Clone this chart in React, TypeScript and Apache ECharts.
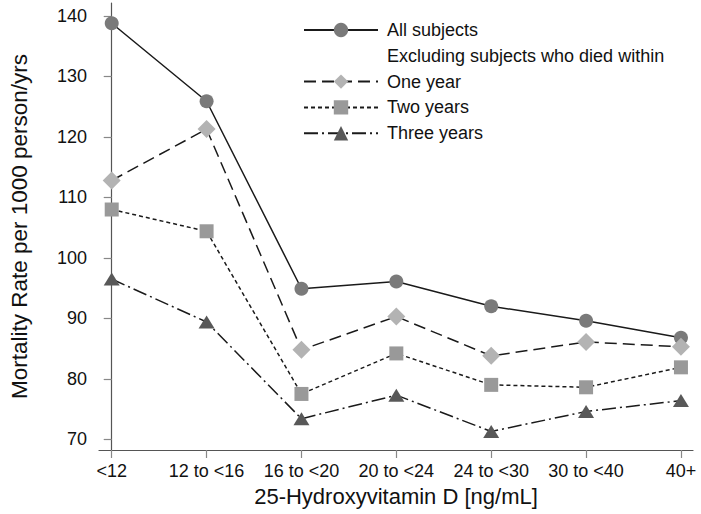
import React, { useEffect, useRef } from "react";
import * as echarts from "echarts";

const categories = ["<12", "12 to <16", "16 to <20", "20 to <24", "24 to <30", "30 to <40", "40+"];
const yTicks = [70, 80, 90, 100, 110, 120, 130, 140];
const allSubjects = [138.8, 125.9, 94.9, 96.1, 92.0, 89.6, 86.8];
const oneYear = [112.8, 121.3, 84.8, 90.3, 83.8, 86.1, 85.3];
const twoYears = [108.0, 104.4, 77.5, 84.2, 79.0, 78.6, 81.9];
const threeYears = [96.5, 89.4, 73.4, 77.3, 71.3, 74.6, 76.4];

const FONT = "'Liberation Sans', Arial, sans-serif";

export default function App() {
  const ref = useRef<HTMLDivElement>(null);
  useEffect(() => {
    if (!ref.current) return;
    const chart = echarts.init(ref.current, undefined, { renderer: "svg" });
    const toPts = (arr: number[]) => arr.map((v, i) => [i, v]);
    const lineColor = "#1a1a1a";
    const mk = (name: string, data: number[], symbol: string, size: any, color: string, type: any) => ({
      name,
      type: "line",
      data: toPts(data),
      symbol,
      symbolSize: size,
      itemStyle: { color, borderWidth: 0 },
      lineStyle: { color: lineColor, width: 1.5, type },
      z: 2,
    });
    chart.setOption({
      animation: false,
      textStyle: { fontFamily: FONT },
      grid: { left: 88, right: 8, top: 3, bottom: 64 },
      legend: {
        orient: "vertical",
        left: 298,
        top: 16,
        itemWidth: 74,
        itemHeight: 18,
        itemGap: 7.8,
        textStyle: { fontSize: 18, color: "#111", fontFamily: FONT, padding: [0, 0, 0, 4] },
        data: [
          "All subjects",
          { name: "Excluding subjects who died within", icon: "none" },
          "One year",
          "Two years",
          "Three years",
        ],
      },
      xAxis: {
        type: "value",
        min: -0.134,
        max: 6.127,
        name: "25-Hydroxyvitamin D [ng/mL]",
        nameLocation: "middle",
        nameGap: 35,
        nameTextStyle: { fontSize: 22, color: "#111", fontFamily: FONT },
        axisLine: { show: true, lineStyle: { color: "#555", width: 1.2 } },
        axisTick: { show: true, length: 8, customValues: categories.map((_, i) => i), lineStyle: { color: "#888", width: 1.2 } },
        axisLabel: {
          customValues: categories.map((_, i) => i),
          formatter: (v: number) => categories[Math.round(v)] ?? "",
          fontSize: 18,
          color: "#111",
          margin: 12,
          fontFamily: FONT,
        },
        splitLine: { show: false },
      },
      yAxis: {
        type: "value",
        min: 68.23,
        max: 142.15,
        name: "Mortality Rate per 1000 person/yrs",
        nameLocation: "middle",
        nameGap: 68,
        nameTextStyle: { fontSize: 22.5, color: "#111", fontFamily: FONT },
        axisLine: { show: true, lineStyle: { color: "#555", width: 1.2 } },
        axisTick: { show: true, length: 8, customValues: yTicks, lineStyle: { color: "#888", width: 1.2 } },
        axisLabel: { customValues: yTicks, fontSize: 18, color: "#111", margin: 12, fontFamily: FONT },
        splitLine: { show: false },
      },
      series: [
        mk("All subjects", allSubjects, "circle", 14, "#7a7a7a", "solid"),
        {
          name: "Excluding subjects who died within",
          type: "line",
          data: [],
          symbol: "none",
          lineStyle: { opacity: 0 },
          itemStyle: { opacity: 0 },
        },
        mk("One year", oneYear, "diamond", 18, "#b3b3b3", [12, 6]),
        mk("Two years", twoYears, "rect", 14, "#999999", [4, 3]),
        mk("Three years", threeYears, "triangle", [16, 13], "#585858", [14, 4, 2, 4]),
      ],
    });
    return () => chart.dispose();
  }, []);
  return <div ref={ref} style={{ position: "fixed", left: 0, top: 0, width: 701, height: 514, background: "#fff" }} />;
}
